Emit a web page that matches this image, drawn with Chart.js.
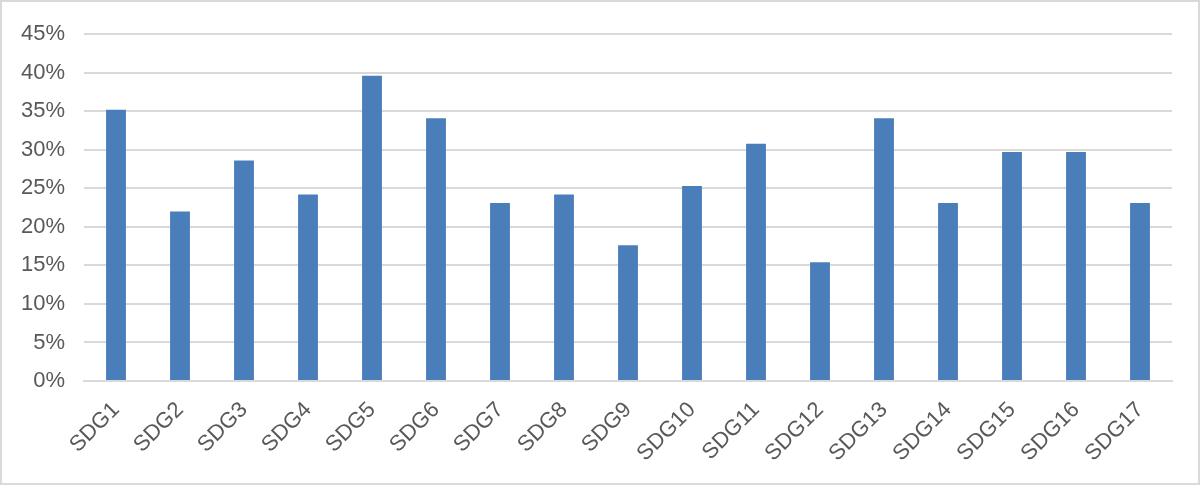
<!DOCTYPE html>
<html>
<head>
<meta charset="utf-8">
<script src="https://cdn.jsdelivr.net/npm/chart.js@4"></script>
<style>
  html, body { margin: 0; padding: 0; background: #fff; }
  #wrap {
    width: 1200px; height: 485px; box-sizing: border-box;
    border: 2px solid #d9d9d9; position: relative;
  }
  #chart { display: block; }
</style>
</head>
<body>
<div id="wrap"><canvas id="chart" width="1196" height="481"></canvas></div>
<script>
// ── Data ───────────────────────────────────────────────────────────
const categories = ['SDG1', 'SDG2', 'SDG3', 'SDG4', 'SDG5', 'SDG6', 'SDG7', 'SDG8', 'SDG9',
  'SDG10', 'SDG11', 'SDG12', 'SDG13', 'SDG14', 'SDG15', 'SDG16', 'SDG17'];
const shares = [35.2, 22.0, 28.6, 24.2, 39.6, 34.1, 23.1, 24.2, 17.6,
  25.3, 30.8, 15.4, 34.1, 23.1, 29.7, 29.7, 23.1];
const yTicks = [0, 5, 10, 15, 20, 25, 30, 35, 40, 45];

// ── Style ──────────────────────────────────────────────────────────
const textColor = '#595959';
const gridColor = '#d9d9d9';
const barColor = '#4a7ebb';
const font = { family: '"Liberation Sans", Arial, sans-serif', size: 22 };

new Chart(document.getElementById('chart'), {
  type: 'bar',
  data: {
    labels: categories,
    datasets: [{
      data: shares,
      backgroundColor: barColor,
      borderWidth: 0,
      barPercentage: 0.31,
      categoryPercentage: 1,
    }],
  },
  options: {
    responsive: false,
    animation: false,
    layout: { padding: { top: 23, right: 26, bottom: 0, left: 0 } },
    plugins: {
      legend: { display: false },
      tooltip: { enabled: false },
    },
    scales: {
      x: {
        grid: { display: false, drawTicks: false },
        border: { color: gridColor, width: 2 },
        ticks: {
          color: textColor, font: font,
          maxRotation: 45, minRotation: 45,
          padding: 16, autoSkip: false,
        },
        // fixed axis height so the plot bottom sits where the original's does
        afterFit: function (axis) { axis.height = 102; },
      },
      y: {
        min: 0,
        max: 45,
        afterBuildTicks: function (axis) {
          axis.ticks = yTicks.map(function (v) { return { value: v }; });
        },
        grid: { color: gridColor, lineWidth: 2, drawTicks: false },
        border: { display: false },
        ticks: {
          color: textColor, font: font, padding: 19,
          callback: function (v) { return v + '%'; },
        },
        afterFit: function (axis) { axis.width = 82; },
      },
    },
  },
});
</script>
</body>
</html>
